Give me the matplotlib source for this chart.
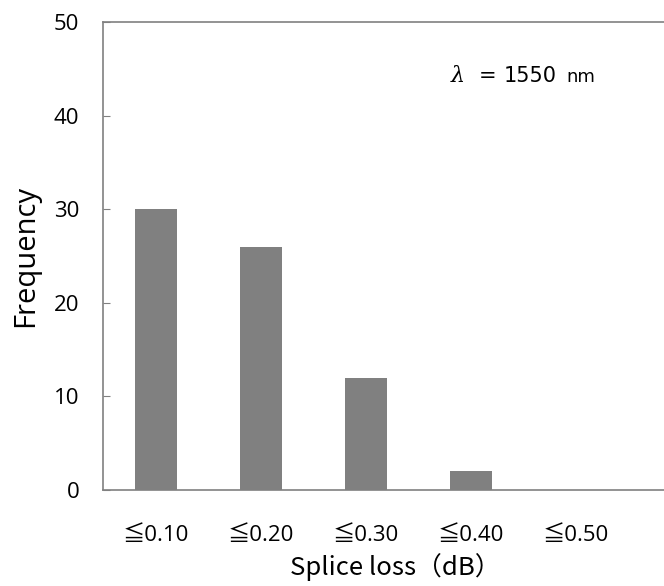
import matplotlib
matplotlib.use("Agg")
import matplotlib.pyplot as plt

categories = ["≦0.10", "≦0.20", "≦0.30", "≦0.40", "≦0.50"]
frequency = [30, 26, 12, 2, 0]
yticks = [0, 10, 20, 30, 40, 50]

latin = ["Open Sans", "Noto Sans CJK JP", "DejaVu Sans"]
gothic = ["Noto Sans CJK JP", "DejaVu Sans"]
wide = ["DejaVu Sans"]
plt.rcParams["font.family"] = latin

fig = plt.figure(figsize=(6.64, 5.86), dpi=100)
W, H = 664, 586
left, right, top, bottom = 103, 664 + 5, 22, 490
ax = fig.add_axes([left / W, 1 - bottom / H, (right - left) / W, (bottom - top) / H])

x = list(range(len(categories)))
ax.bar(x, frequency, width=0.4, color="#808080", zorder=2)

ax.set_ylim(0, 50)
ax.set_yticks(yticks)
span = (right - left) / 105.0
ax.set_xlim(-0.5, -0.5 + span)
ax.set_xticks(x)
ax.set_xticklabels(categories)

for side in ("left", "top", "bottom"):
    ax.spines[side].set_color("#808080")
    ax.spines[side].set_linewidth(1.2)
ax.spines["right"].set_visible(False)

ax.tick_params(axis="y", direction="in", length=5, color="#808080", labelsize=16, pad=17)
ax.tick_params(axis="x", length=0, labelsize=16, pad=25)

ax.set_ylabel("Frequency", fontsize=21, labelpad=10)
ax.set_xlabel("Splice loss（dB）", fontsize=18.5, family=gothic)
ax.xaxis.set_label_coords((395 - left) / (right - left), -(553 - bottom) / (bottom - top))
ax.xaxis.label.set_verticalalignment("top")


def fig_xy(px, py):
    return px / W, 1 - py / H


fig.text(*fig_xy(451, 76), "λ", fontsize=16, family=["DejaVu Serif"],
         style="italic", ha="left", va="center")
fig.text(*fig_xy(479, 76), "=", fontsize=15, family=wide, ha="left", va="center")
fig.text(*fig_xy(504, 76), "1550", fontsize=15, family=wide, ha="left", va="center")
fig.text(*fig_xy(566, 77), "nm", fontsize=13, family=wide, ha="left", va="center")

fig.savefig("out.png", dpi=100)
